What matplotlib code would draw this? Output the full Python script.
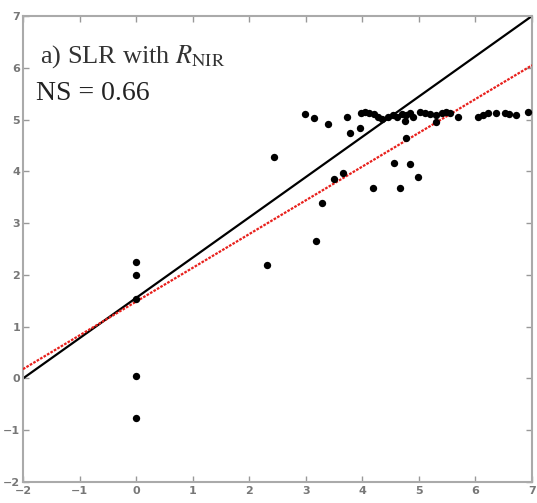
import matplotlib
matplotlib.use("Agg")
import matplotlib.pyplot as plt

# observed vs predicted points
x_obs = [0, 0, 0, 0, 0,
         2.31, 2.44, 3.18, 3.28, 3.50, 3.65, 4.19, 4.67, 4.56, 4.85, 4.98, 4.78,
         3.40, 3.79, 3.95, 4.75, 5.31,
         2.99, 3.14, 3.73, 3.97, 4.05, 4.12, 4.20, 4.28, 4.35, 4.45, 4.55, 4.62,
         4.70, 4.78, 4.85, 4.90, 5.02, 5.10, 5.20, 5.30, 5.40, 5.48, 5.55, 5.70,
         6.05, 6.13, 6.22, 6.37, 6.52, 6.60, 6.72, 6.93]
y_obs = [2.25, 1.99, 1.53, 0.04, -0.77,
         2.20, 4.27, 2.65, 3.38, 3.85, 3.96, 3.68, 3.68, 4.17, 4.14, 3.90, 4.64,
         4.91, 4.75, 4.83, 4.98, 4.96,
         5.10, 5.03, 5.05, 5.13, 5.15, 5.12, 5.10, 5.05, 5.02, 5.05, 5.08, 5.04,
         5.10, 5.08, 5.12, 5.05, 5.14, 5.12, 5.10, 5.08, 5.12, 5.14, 5.12, 5.05,
         5.05, 5.08, 5.12, 5.13, 5.12, 5.10, 5.08, 5.14]

# reference line and regression line (slope, intercept)
ref_slope, ref_intercept = 7.0 / 9.0, 14.0 / 9.0
fit_slope, fit_intercept = 0.652, 1.484

x_range = [-2, 7]
ticks = [-2, -1, 0, 1, 2, 3, 4, 5, 6, 7]

plt.rcParams['mathtext.fontset'] = 'stix'
fig = plt.figure(figsize=(5.37, 5.03), dpi=100)
ax = fig.add_axes([0.0428, 0.0417, 0.9479, 0.9265])

ax.plot(x_range, [ref_slope * v + ref_intercept for v in x_range],
        color='black', lw=1.6, zorder=2)
ax.plot(x_range, [fit_slope * v + fit_intercept for v in x_range],
        color='#e8201c', lw=1.6, ls=(0, (1.2, 0.6)), zorder=3)
ax.scatter(x_obs, y_obs, s=28, color='black', zorder=4, linewidths=0)

ax.set_xlim(-2, 7)
ax.set_ylim(-2, 7)
ax.set_xticks(ticks)
ax.set_yticks(ticks)
ax.tick_params(direction='in', length=4, width=1, colors='#999999',
               labelcolor='#777777', labelsize=8, top=True, right=True, pad=2)
ax.tick_params(axis='x', pad=3)
for lab in ax.get_xticklabels() + ax.get_yticklabels():
    lab.set_fontweight('bold')
for sp in ax.spines.values():
    sp.set_color('#aaaaaa')
    sp.set_linewidth(1.5)

ax.text(0.033, 0.901, r"a) SLR with $R_{\mathrm{NIR}}$", transform=ax.transAxes,
        fontsize=19, family='Liberation Serif', color='#333333', va='baseline')
ax.text(0.025, 0.82, "NS = 0.66", transform=ax.transAxes,
        fontsize=20, family='Liberation Serif', color='#222222', va='baseline')

fig.savefig("out.png", dpi=100)
